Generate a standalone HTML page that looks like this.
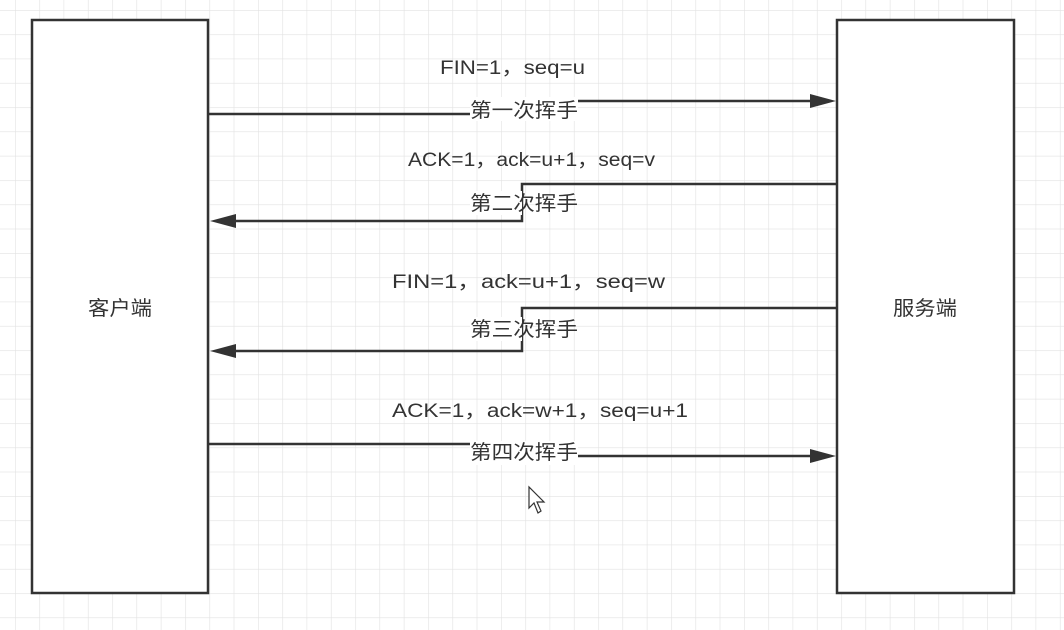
<!DOCTYPE html>
<html><head><meta charset="utf-8"><style>
html,body{margin:0;padding:0;background:#fff;}
svg{display:block;}
text{font-family:"Liberation Sans","Noto Sans CJK SC",sans-serif;font-size:19px;fill:#333;}
.c{font-size:20px;}
</style></head><body>
<svg width="1064" height="630" viewBox="0 0 1064 630" xmlns="http://www.w3.org/2000/svg">
<defs>
<pattern id="g" x="15" y="10" width="24.3" height="24.3" patternUnits="userSpaceOnUse">
<path d="M0 0H24.3M0 0V24.3" stroke="#e2e2e2" stroke-width="1.2" fill="none"/>
</pattern>
</defs>
<rect width="1064" height="630" fill="#fff"/>
<rect width="1064" height="630" fill="url(#g)"/>
<rect x="32" y="20" width="176" height="573" fill="#fff" stroke="#333" stroke-width="2.5"/>
<rect x="837" y="20" width="177" height="573" fill="#fff" stroke="#333" stroke-width="2.5"/>
<text class="c" x="88" y="315" textLength="64" lengthAdjust="spacingAndGlyphs">客户端</text>
<text class="c" x="893" y="315" textLength="64" lengthAdjust="spacingAndGlyphs">服务端</text>
<g stroke="#333" stroke-width="2.5" fill="none">
<path d="M209 114H522V101H820"/>
<path d="M836 184H522V221H225"/>
<path d="M836 308H522V351H225"/>
<path d="M209 444H522V456H820"/>
</g>
<g fill="#333">
<path d="M836 101L810 94L810 108Z"/>
<path d="M210 221L236 214L236 228Z"/>
<path d="M210 351L236 344L236 358Z"/>
<path d="M836 456L810 449L810 463Z"/>
</g>
<g fill="#fff">
<rect x="470" y="97" width="108" height="24"/>
<rect x="470" y="191" width="52" height="24"/>
<rect x="470" y="317" width="52" height="24"/>
<rect x="470" y="441" width="108" height="24"/>
</g>
<text x="440" y="74" textLength="145" lengthAdjust="spacingAndGlyphs">FIN=1，seq=u</text>
<text class="c" x="470" y="117" textLength="108" lengthAdjust="spacingAndGlyphs">第一次挥手</text>
<text x="408" y="166" textLength="247" lengthAdjust="spacingAndGlyphs">ACK=1，ack=u+1，seq=v</text>
<text class="c" x="470" y="210" textLength="108" lengthAdjust="spacingAndGlyphs">第二次挥手</text>
<text x="392" y="288" textLength="273" lengthAdjust="spacingAndGlyphs">FIN=1，ack=u+1，seq=w</text>
<text class="c" x="470" y="336" textLength="108" lengthAdjust="spacingAndGlyphs">第三次挥手</text>
<text x="392" y="417" textLength="296" lengthAdjust="spacingAndGlyphs">ACK=1，ack=w+1，seq=u+1</text>
<text class="c" x="470" y="459" textLength="108" lengthAdjust="spacingAndGlyphs">第四次挥手</text>
<path d="M529 487L529 508L534 503L538 513L541 511L537 502L544 502Z" fill="#fff" stroke="#333" stroke-width="1.2"/>
</svg>
</body></html>
